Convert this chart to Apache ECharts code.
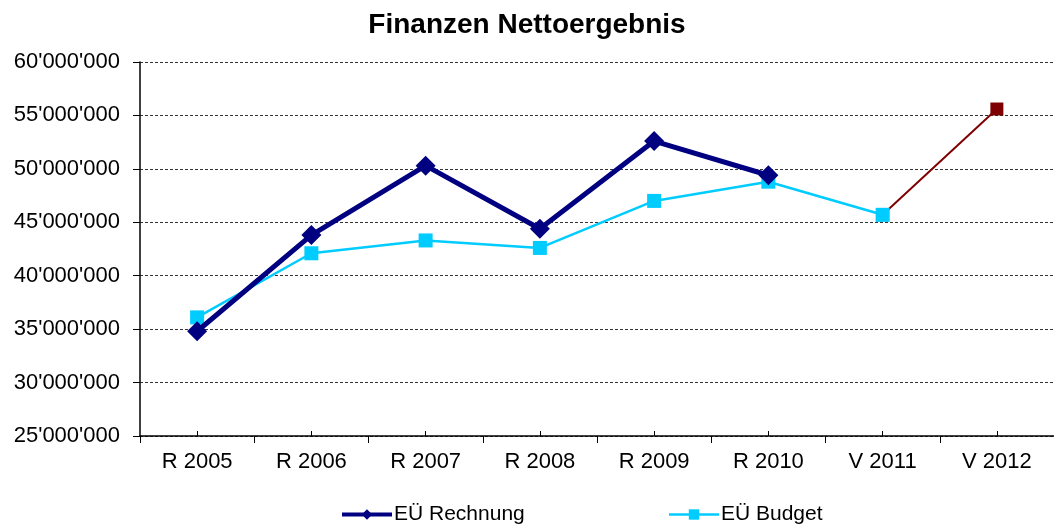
<!DOCTYPE html>
<html>
<head>
<meta charset="utf-8">
<script src="https://cdn.jsdelivr.net/npm/echarts@6/dist/echarts.min.js"></script>
<style>
  html, body { margin: 0; padding: 0; background: #fff; }
  #chart { width: 1054px; height: 524px; }
</style>
</head>
<body>
<div id="chart"></div>
<script>
const categories = ['R 2005', 'R 2006', 'R 2007', 'R 2008', 'R 2009', 'R 2010', 'V 2011', 'V 2012'];
const rechnung = [34800000, 43800000, 50300000, 44400000, 52600000, 49400000, null, null];
const budget = [36100000, 42100000, 43300000, 42600000, 47000000, 48800000, 45700000, null];
const voranschlag = [null, null, null, null, null, null, 45700000, 55600000];

// 60'000'000 style
function fmt(v) {
    return String(v).replace(/\B(?=(\d{3})+(?!\d))/g, "'");
}

const chart = echarts.init(document.getElementById('chart'));
chart.setOption({
    animation: false,
    textStyle: { fontFamily: 'Liberation Sans, Arial, sans-serif' },
    title: {
        text: 'Finanzen Nettoergebnis',
        left: 'center',
        top: 6,
        textStyle: { fontSize: 28, fontWeight: 'bold', color: '#000' }
    },
    legend: {
        data: [
            { name: 'EÜ Rechnung', lineStyle: { width: 4 } },
            { name: 'EÜ Budget', lineStyle: { width: 2.5 } }
        ],
        top: 499,
        left: 335,
        itemWidth: 50,
        itemHeight: 13,
        itemGap: 143,
        textStyle: { fontSize: 21, color: '#000', padding: [0, 0, 0, -3] }
    },
    grid: { left: 140, right: 0, top: 62, bottom: 88 },
    xAxis: [
        {
            type: 'category',
            data: categories,
            boundaryGap: true,
            axisLine: { lineStyle: { color: '#000', width: 1.5 } },
            axisTick: { show: true, length: 7, lineStyle: { color: '#000' } },
            axisLabel: { fontSize: 22, color: '#000', margin: 15 }
        },
        {
            // small inner ticks at the category centres
            type: 'category',
            data: categories,
            position: 'bottom',
            boundaryGap: true,
            axisLine: { show: false },
            axisTick: { show: true, inside: true, alignWithLabel: true, length: 5, lineStyle: { color: '#000' } },
            axisLabel: { show: false }
        }
    ],
    yAxis: {
        type: 'value',
        min: 25000000,
        max: 60000000,
        interval: 5000000,
        axisLine: { show: true, lineStyle: { color: '#000', width: 1.5 } },
        axisTick: { show: true, length: 7, lineStyle: { color: '#000' } },
        axisLabel: { fontSize: 22, color: '#000', margin: 20, formatter: fmt },
        splitLine: { lineStyle: { color: '#333', type: [3, 2], width: 1 } }
    },
    series: [
        {
            name: 'Voranschlag',
            type: 'line',
            data: voranschlag,
            symbol: 'rect',
            symbolSize: 13,
            lineStyle: { color: '#7f0000', width: 2 },
            itemStyle: { color: '#7f0000' },
            z: 1
        },
        {
            name: 'EÜ Budget',
            type: 'line',
            data: budget,
            symbol: 'rect',
            symbolSize: 14,
            lineStyle: { color: '#00ccff', width: 2.5 },
            itemStyle: { color: '#00ccff' },
            z: 2
        },
        {
            name: 'EÜ Rechnung',
            type: 'line',
            data: rechnung,
            symbol: 'diamond',
            symbolSize: 20,
            lineStyle: { color: '#000080', width: 5 },
            itemStyle: { color: '#000080' },
            z: 3
        }
    ]
});
</script>
</body>
</html>
